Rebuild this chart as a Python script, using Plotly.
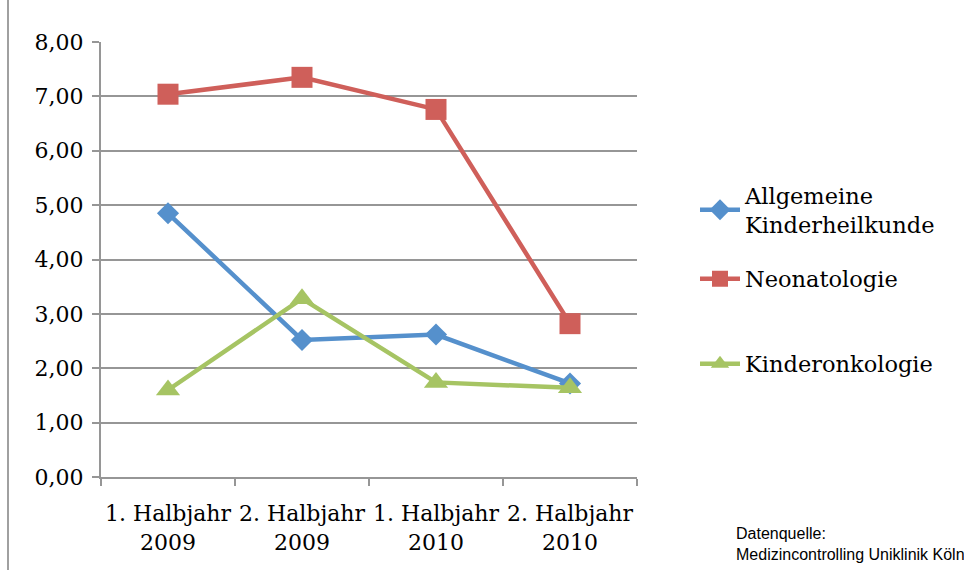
import plotly.graph_objects as go

categories = ["1. Halbjahr<br>2009", "2. Halbjahr<br>2009", "1. Halbjahr<br>2010", "2. Halbjahr<br>2010"]
allgemeine = [4.85, 2.52, 2.62, 1.72]
neonatologie = [7.04, 7.35, 6.76, 2.82]
kinderonkologie = [1.60, 3.28, 1.74, 1.64]
y_ticks = [0, 1, 2, 3, 4, 5, 6, 7, 8]
y_labels = ["0,00", "1,00", "2,00", "3,00", "4,00", "5,00", "6,00", "7,00", "8,00"]

BLUE = "#5590CC"
RED = "#CF5F5A"
GREEN = "#A6C463"
GRID = "#969696"
FONT = "DejaVu Serif"

fig = go.Figure()
fig.add_trace(go.Scatter(x=categories, y=allgemeine, mode="lines+markers",
                         name="Allgemeine<br>Kinderheilkunde",
                         line=dict(color=BLUE, width=4.5),
                         marker=dict(symbol="diamond", size=17, color=BLUE),
                         legend="legend"))
fig.add_trace(go.Scatter(x=categories, y=neonatologie, mode="lines+markers",
                         name="Neonatologie",
                         line=dict(color=RED, width=4.5),
                         marker=dict(symbol="square", size=21, color=RED),
                         legend="legend2"))
fig.add_trace(go.Scatter(x=categories, y=kinderonkologie, mode="lines+markers",
                         name="Kinderonkologie",
                         line=dict(color=GREEN, width=4.5),
                         marker=dict(symbol="triangle-up", size=21, color=GREEN),
                         legend="legend3"))

legend_common = dict(font=dict(family=FONT, size=22.5, color="#000000"),
                     bgcolor="rgba(0,0,0,0)", xanchor="left", yanchor="middle",
                     itemwidth=40)
LX = (695 - 101) / 536
fig.update_layout(
    width=964, height=570,
    showlegend=True,
    margin=dict(l=101, r=327, t=42, b=93, autoexpand=False),
    paper_bgcolor="white", plot_bgcolor="white",
    font=dict(family=FONT, size=22, color="#000000"),
    legend=dict(x=LX, y=(477 - 210) / 435, **legend_common),
    legend2=dict(x=LX, y=(477 - 279) / 435, **legend_common),
    legend3=dict(x=LX, y=(477 - 364) / 435, **legend_common),
    xaxis=dict(range=[-0.5, 3.5], showline=True, linecolor=GRID, linewidth=2,
               ticks="outside", tickson="boundaries", ticklen=7, tickcolor=GRID, tickwidth=2,
               showgrid=False, tickfont=dict(family=FONT, size=22), tickangle=0,
               ticklabelstandoff=16, automargin=False),
    yaxis=dict(range=[0, 8], tickvals=y_ticks, ticktext=y_labels,
               showline=True, linecolor=GRID, linewidth=2,
               ticks="outside", ticklen=7, tickcolor=GRID, tickwidth=2,
               showgrid=True, gridcolor=GRID, gridwidth=2, zeroline=False,
               tickfont=dict(family=FONT, size=22), ticklabelstandoff=4,
               automargin=False),
    annotations=[dict(text="Datenquelle:<br>Medizincontrolling Uniklinik Köln",
                      xref="paper", yref="paper", x=(734 - 101) / 536, y=(477 - 523) / 435,
                      xanchor="left", yanchor="top", align="left", showarrow=False,
                      font=dict(family="Liberation Sans", size=16, color="#000000"))],
    shapes=[dict(type="line", xref="paper", yref="paper",
                 x0=(8 - 101) / 536, x1=(8 - 101) / 536, y0=-93 / 435, y1=(477) / 435,
                 line=dict(color="#A0A0A0", width=2))],
)
fig.write_html("out.html", config={"displayModeBar": False},
               post_script="document.body.style.margin='0';")
